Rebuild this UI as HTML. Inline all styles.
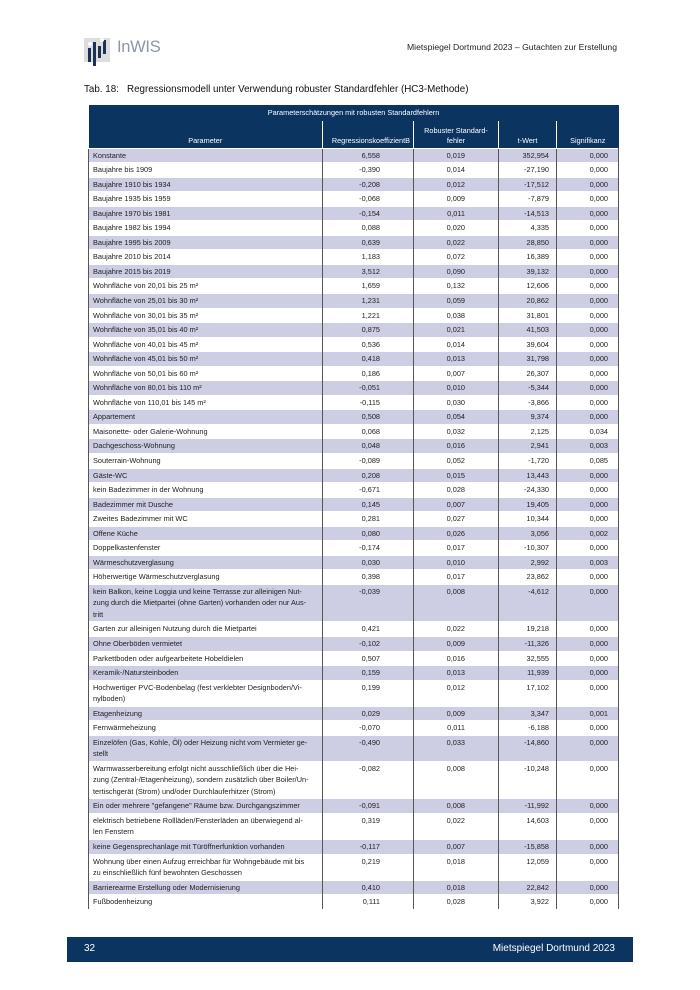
<!DOCTYPE html>
<html><head><meta charset="utf-8"><style>
*{margin:0;padding:0;box-sizing:border-box}
body{width:700px;height:990px;background:#fff;position:relative;font-family:"Liberation Sans",sans-serif;color:#222;overflow:hidden}
.hdr{position:absolute;left:407px;top:42px;font-size:8.65px;color:#222;white-space:nowrap}
.title{position:absolute;left:84px;top:84px;font-size:9.8px;white-space:nowrap;color:#111}
table{position:absolute;left:88px;top:105px;width:530px;border-collapse:collapse;table-layout:fixed;font-size:7.35px;line-height:11.5px}
td{padding:1px 4px 1.05px 4px;vertical-align:top;white-space:nowrap;border-left:1px solid #555;border-right:1px solid #555;border-top:1px solid #fff}
td.n{text-align:right}
td.c2{padding-right:33px}td.c3{padding-right:33px}td.c4{padding-right:7px}td.c5{padding-right:10px}
tr.s td{background:#cdcde3}
th{background:#0b3460;color:#fff;font-weight:normal;font-size:7.3px;line-height:10px;border-left:1px solid #fff;vertical-align:bottom;padding:2px 3px}
.foot{position:absolute;left:67px;top:937px;width:566px;height:25px;background:#0b3460;color:#fff;font-size:10px}
</style></head><body>
<svg style="position:absolute;left:84px;top:34px" width="30" height="32">
<rect x="0" y="4" width="26" height="24" fill="#ddd"/>
<rect x="4" y="14" width="3" height="14" fill="#1b3156"/>
<rect x="9" y="8" width="3" height="24" fill="#1b3156"/>
<rect x="14" y="12" width="3" height="12" fill="#1b3156"/>
<rect x="19" y="6" width="3" height="14" fill="#1b3156"/>
<circle cx="6" cy="10" r="2" fill="#fff"/><circle cx="18" cy="6" r="2" fill="#fff"/>
</svg>
<div style="position:absolute;left:117px;top:38px;font-size:16.5px;color:#8d96a6;letter-spacing:-0.3px">InWIS</div>
<div class="hdr">Mietspiegel Dortmund 2023 – Gutachten zur Erstellung</div>
<div class="title">Tab. 18:&nbsp;&nbsp; Regressionsmodell unter Verwendung robuster Standardfehler (HC3-Methode)</div>
<table>
<colgroup><col style="width:234px"><col style="width:91px"><col style="width:85px"><col style="width:58px"><col style="width:62px"></colgroup>
<tr><th colspan="5" style="height:16px;vertical-align:middle;text-align:center;border-left:none">Parameterschätzungen mit robusten Standardfehlern</th></tr>
<tr><th style="height:27px;text-align:center;border-left:none">Parameter</th><th style="text-align:right">RegressionskoeffizientB</th><th style="text-align:center">Robuster Standard-<br>fehler</th><th style="text-align:center">t-Wert</th><th style="text-align:center">Signifikanz</th></tr>
<tr class="s"><td>Konstante</td><td class="n c2">6,558</td><td class="n c3">0,019</td><td class="n c4">352,954</td><td class="n c5">0,000</td></tr>
<tr><td>Baujahre bis 1909</td><td class="n c2">-0,390</td><td class="n c3">0,014</td><td class="n c4">-27,190</td><td class="n c5">0,000</td></tr>
<tr class="s"><td>Baujahre 1910 bis 1934</td><td class="n c2">-0,208</td><td class="n c3">0,012</td><td class="n c4">-17,512</td><td class="n c5">0,000</td></tr>
<tr><td>Baujahre 1935 bis 1959</td><td class="n c2">-0,068</td><td class="n c3">0,009</td><td class="n c4">-7,879</td><td class="n c5">0,000</td></tr>
<tr class="s"><td>Baujahre 1970 bis 1981</td><td class="n c2">-0,154</td><td class="n c3">0,011</td><td class="n c4">-14,513</td><td class="n c5">0,000</td></tr>
<tr><td>Baujahre 1982 bis 1994</td><td class="n c2">0,088</td><td class="n c3">0,020</td><td class="n c4">4,335</td><td class="n c5">0,000</td></tr>
<tr class="s"><td>Baujahre 1995 bis 2009</td><td class="n c2">0,639</td><td class="n c3">0,022</td><td class="n c4">28,850</td><td class="n c5">0,000</td></tr>
<tr><td>Baujahre 2010 bis 2014</td><td class="n c2">1,183</td><td class="n c3">0,072</td><td class="n c4">16,389</td><td class="n c5">0,000</td></tr>
<tr class="s"><td>Baujahre 2015 bis 2019</td><td class="n c2">3,512</td><td class="n c3">0,090</td><td class="n c4">39,132</td><td class="n c5">0,000</td></tr>
<tr><td>Wohnfläche von 20,01 bis 25 m²</td><td class="n c2">1,659</td><td class="n c3">0,132</td><td class="n c4">12,606</td><td class="n c5">0,000</td></tr>
<tr class="s"><td>Wohnfläche von 25,01 bis 30 m²</td><td class="n c2">1,231</td><td class="n c3">0,059</td><td class="n c4">20,862</td><td class="n c5">0,000</td></tr>
<tr><td>Wohnfläche von 30,01 bis 35 m²</td><td class="n c2">1,221</td><td class="n c3">0,038</td><td class="n c4">31,801</td><td class="n c5">0,000</td></tr>
<tr class="s"><td>Wohnfläche von 35,01 bis 40 m²</td><td class="n c2">0,875</td><td class="n c3">0,021</td><td class="n c4">41,503</td><td class="n c5">0,000</td></tr>
<tr><td>Wohnfläche von 40,01 bis 45 m²</td><td class="n c2">0,536</td><td class="n c3">0,014</td><td class="n c4">39,604</td><td class="n c5">0,000</td></tr>
<tr class="s"><td>Wohnfläche von 45,01 bis 50 m²</td><td class="n c2">0,418</td><td class="n c3">0,013</td><td class="n c4">31,798</td><td class="n c5">0,000</td></tr>
<tr><td>Wohnfläche von 50,01 bis 60 m²</td><td class="n c2">0,186</td><td class="n c3">0,007</td><td class="n c4">26,307</td><td class="n c5">0,000</td></tr>
<tr class="s"><td>Wohnfläche von 80,01 bis 110 m²</td><td class="n c2">-0,051</td><td class="n c3">0,010</td><td class="n c4">-5,344</td><td class="n c5">0,000</td></tr>
<tr><td>Wohnfläche von 110,01 bis 145 m²</td><td class="n c2">-0,115</td><td class="n c3">0,030</td><td class="n c4">-3,866</td><td class="n c5">0,000</td></tr>
<tr class="s"><td>Appartement</td><td class="n c2">0,508</td><td class="n c3">0,054</td><td class="n c4">9,374</td><td class="n c5">0,000</td></tr>
<tr><td>Maisonette- oder Galerie-Wohnung</td><td class="n c2">0,068</td><td class="n c3">0,032</td><td class="n c4">2,125</td><td class="n c5">0,034</td></tr>
<tr class="s"><td>Dachgeschoss-Wohnung</td><td class="n c2">0,048</td><td class="n c3">0,016</td><td class="n c4">2,941</td><td class="n c5">0,003</td></tr>
<tr><td>Souterrain-Wohnung</td><td class="n c2">-0,089</td><td class="n c3">0,052</td><td class="n c4">-1,720</td><td class="n c5">0,085</td></tr>
<tr class="s"><td>Gäste-WC</td><td class="n c2">0,208</td><td class="n c3">0,015</td><td class="n c4">13,443</td><td class="n c5">0,000</td></tr>
<tr><td>kein Badezimmer in der Wohnung</td><td class="n c2">-0,671</td><td class="n c3">0,028</td><td class="n c4">-24,330</td><td class="n c5">0,000</td></tr>
<tr class="s"><td>Badezimmer mit Dusche</td><td class="n c2">0,145</td><td class="n c3">0,007</td><td class="n c4">19,405</td><td class="n c5">0,000</td></tr>
<tr><td>Zweites Badezimmer mit WC</td><td class="n c2">0,281</td><td class="n c3">0,027</td><td class="n c4">10,344</td><td class="n c5">0,000</td></tr>
<tr class="s"><td>Offene Küche</td><td class="n c2">0,080</td><td class="n c3">0,026</td><td class="n c4">3,056</td><td class="n c5">0,002</td></tr>
<tr><td>Doppelkastenfenster</td><td class="n c2">-0,174</td><td class="n c3">0,017</td><td class="n c4">-10,307</td><td class="n c5">0,000</td></tr>
<tr class="s"><td>Wärmeschutzverglasung</td><td class="n c2">0,030</td><td class="n c3">0,010</td><td class="n c4">2,992</td><td class="n c5">0,003</td></tr>
<tr><td>Höherwertige Wärmeschutzverglasung</td><td class="n c2">0,398</td><td class="n c3">0,017</td><td class="n c4">23,862</td><td class="n c5">0,000</td></tr>
<tr class="s"><td>kein Balkon, keine Loggia und keine Terrasse zur alleinigen Nut-<br>zung durch die Mietpartei (ohne Garten) vorhanden oder nur Aus-<br>tritt</td><td class="n c2">-0,039</td><td class="n c3">0,008</td><td class="n c4">-4,612</td><td class="n c5">0,000</td></tr>
<tr><td>Garten zur alleinigen Nutzung durch die Mietpartei</td><td class="n c2">0,421</td><td class="n c3">0,022</td><td class="n c4">19,218</td><td class="n c5">0,000</td></tr>
<tr class="s"><td>Ohne Oberböden vermietet</td><td class="n c2">-0,102</td><td class="n c3">0,009</td><td class="n c4">-11,326</td><td class="n c5">0,000</td></tr>
<tr><td>Parkettboden oder aufgearbeitete Hobeldielen</td><td class="n c2">0,507</td><td class="n c3">0,016</td><td class="n c4">32,555</td><td class="n c5">0,000</td></tr>
<tr class="s"><td>Keramik-/Natursteinboden</td><td class="n c2">0,159</td><td class="n c3">0,013</td><td class="n c4">11,939</td><td class="n c5">0,000</td></tr>
<tr><td>Hochwertiger PVC-Bodenbelag (fest verklebter Designboden/Vi-<br>nylboden)</td><td class="n c2">0,199</td><td class="n c3">0,012</td><td class="n c4">17,102</td><td class="n c5">0,000</td></tr>
<tr class="s"><td>Etagenheizung</td><td class="n c2">0,029</td><td class="n c3">0,009</td><td class="n c4">3,347</td><td class="n c5">0,001</td></tr>
<tr><td>Fernwärmeheizung</td><td class="n c2">-0,070</td><td class="n c3">0,011</td><td class="n c4">-6,188</td><td class="n c5">0,000</td></tr>
<tr class="s"><td>Einzelöfen (Gas, Kohle, Öl) oder Heizung nicht vom Vermieter ge-<br>stellt</td><td class="n c2">-0,490</td><td class="n c3">0,033</td><td class="n c4">-14,860</td><td class="n c5">0,000</td></tr>
<tr><td>Warmwasserbereitung erfolgt nicht ausschließlich über die Hei-<br>zung (Zentral-/Etagenheizung), sondern zusätzlich über Boiler/Un-<br>tertischgerät (Strom) und/oder Durchlauferhitzer (Strom)</td><td class="n c2">-0,082</td><td class="n c3">0,008</td><td class="n c4">-10,248</td><td class="n c5">0,000</td></tr>
<tr class="s"><td>Ein oder mehrere "gefangene" Räume bzw. Durchgangszimmer</td><td class="n c2">-0,091</td><td class="n c3">0,008</td><td class="n c4">-11,992</td><td class="n c5">0,000</td></tr>
<tr><td>elektrisch betriebene Rollläden/Fensterläden an überwiegend al-<br>len Fenstern</td><td class="n c2">0,319</td><td class="n c3">0,022</td><td class="n c4">14,603</td><td class="n c5">0,000</td></tr>
<tr class="s"><td>keine Gegensprechanlage mit Türöffnerfunktion vorhanden</td><td class="n c2">-0,117</td><td class="n c3">0,007</td><td class="n c4">-15,858</td><td class="n c5">0,000</td></tr>
<tr><td>Wohnung über einen Aufzug erreichbar für Wohngebäude mit bis<br>zu einschließlich fünf bewohnten Geschossen</td><td class="n c2">0,219</td><td class="n c3">0,018</td><td class="n c4">12,059</td><td class="n c5">0,000</td></tr>
<tr class="s"><td>Barrierearme Erstellung oder Modernisierung</td><td class="n c2">0,410</td><td class="n c3">0,018</td><td class="n c4">22,842</td><td class="n c5">0,000</td></tr>
<tr><td>Fußbodenheizung</td><td class="n c2">0,111</td><td class="n c3">0,028</td><td class="n c4">3,922</td><td class="n c5">0,000</td></tr>
</table>
<div class="foot"><span style="position:absolute;left:17px;top:6px">32</span><span style="position:absolute;right:18px;top:6px">Mietspiegel Dortmund 2023</span></div>
</body></html>
